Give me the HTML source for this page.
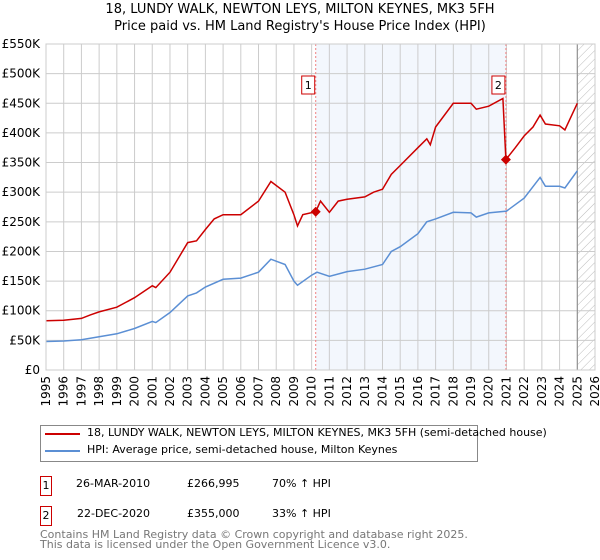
<!DOCTYPE html>
<html><head><meta charset="utf-8"><style>
body{margin:0;background:#fff;font-family:"DejaVu Sans","Liberation Sans",sans-serif;}
#wrap{position:relative;width:600px;height:560px;overflow:hidden}
.t{position:absolute;font-size:12px;color:#000;white-space:nowrap}
</style></head><body><div id="wrap">
<div class="t" style="left:0;width:600px;text-align:center;top:2px;font-size:13px">18, LUNDY WALK, NEWTON LEYS, MILTON KEYNES, MK3 5FH</div>
<div class="t" style="left:0;width:600px;text-align:center;top:19px;font-size:13px">Price paid vs. HM Land Registry's House Price Index (HPI)</div>
<svg id="chart" width="600" height="420" style="position:absolute;left:0;top:0">
<defs><pattern id="hatch" width="6" height="6" patternUnits="userSpaceOnUse" patternTransform="rotate(45)"><line x1="0" y1="0" x2="0" y2="6" stroke="#bbb" stroke-width="1"/></pattern></defs>
<g id="g"></g></svg>
<div style="position:absolute;left:40px;top:425px;width:436px;height:35px;border:1px solid #888"></div>
<div style="position:absolute;left:45px;top:433px;width:35px;height:2px;background:#cc0000"></div>
<div class="t" style="left:87px;top:426px;font-size:11px">18, LUNDY WALK, NEWTON LEYS, MILTON KEYNES, MK3 5FH (semi-detached house)</div>
<div style="position:absolute;left:45px;top:450px;width:35px;height:2px;background:#5b8fd4"></div>
<div class="t" style="left:87px;top:443px;font-size:11px">HPI: Average price, semi-detached house, Milton Keynes</div>
<div class="t" style="left:40px;top:476px;width:10px;height:18px;border:1px solid #c00;text-align:center;line-height:18px;font-size:11px">1</div>
<div class="t" style="left:76px;top:477px;font-size:11px">26-MAR-2010</div>
<div class="t" style="left:187px;top:477px;font-size:11px">£266,995</div>
<div class="t" style="left:272px;top:477px;font-size:11px">70% ↑ HPI</div>
<div class="t" style="left:40px;top:506px;width:10px;height:18px;border:1px solid #c00;text-align:center;line-height:18px;font-size:11px">2</div>
<div class="t" style="left:77px;top:507px;font-size:11px">22-DEC-2020</div>
<div class="t" style="left:187px;top:507px;font-size:11px">£355,000</div>
<div class="t" style="left:272px;top:507px;font-size:11px">33% ↑ HPI</div>
<div class="t" style="left:40px;top:530px;font-size:11px;color:#777;line-height:10px">Contains HM Land Registry data © Crown copyright and database right 2025.<br>This data is licensed under the Open Government Licence v3.0.</div>
</div>
<script>
const hpiYears=[1995,1996,1997,1998,1999,2000,2001,2001.2,2002,2003,2003.5,2004,2005,2006,2007,2007.7,2008.5,2009,2009.2,2010,2010.3,2011,2012,2013,2014,2014.5,2015,2016,2016.5,2017,2018,2019,2019.3,2020,2021,2022,2022.9,2023.2,2024,2024.3,2025];
const hpiValues=[48,49,51,56,61,70,82,80,97,125,130,140,153,155,165,187,178,150,143,160,165,158,166,170,178,200,208,230,250,255,266,265,258,265,268,290,325,310,310,307,336];
const propYears=[1995,1996,1997,1997.5,1998,1999,2000,2001,2001.2,2002,2003,2003.5,2004,2004.5,2005,2006,2007,2007.7,2008.5,2009,2009.2,2009.5,2010.23,2010.5,2011,2011.5,2012,2013,2013.5,2014,2014.5,2015,2016,2016.5,2016.7,2017,2018,2019,2019.3,2020,2020.8,2020.97,2021.5,2022,2022.5,2022.9,2023.2,2024,2024.3,2025];
const propValues=[83,84,87,93,98,106,122,142,139,165,215,218,237,255,262,262,285,318,300,262,243,262,267,285,266,285,288,292,300,305,330,345,375,390,380,410,450,450,440,445,458,355,375,395,410,430,415,412,405,450];
const saleYears=[2010.23,2020.97];
const saleValues=[266.995,355];
const saleLabels=["1","2"];
const yTicks=[0,50,100,150,200,250,300,350,400,450,500,550];
const yTickLabels=["£0","£50K","£100K","£150K","£200K","£250K","£300K","£350K","£400K","£450K","£500K","£550K"];
const xTicks=[1995,1996,1997,1998,1999,2000,2001,2002,2003,2004,2005,2006,2007,2008,2009,2010,2011,2012,2013,2014,2015,2016,2017,2018,2019,2020,2021,2022,2023,2024,2025,2026];
const X0=46,X1=595,Y0=370,Y1=44;
const x=v=>X0+(v-1995)/(2026-1995)*(X1-X0);
const y=v=>Y0-v/550*(Y0-Y1);
const g=document.getElementById('g');const NS='http://www.w3.org/2000/svg';
function mk(t,a){const e=document.createElementNS(NS,t);for(const k in a)e.setAttribute(k,a[k]);g.appendChild(e);return e;}
let e=mk('rect',{x:x(saleYears[0]),y:Y1,width:x(saleYears[1])-x(saleYears[0]),height:Y0-Y1,fill:'#eef3fc',opacity:0.7});


e=mk('rect',{x:x(2025),y:Y1,width:X1-x(2025),height:Y0-Y1,fill:'url(#hatch)'});


yTicks.forEach((v,i)=>{
 let l=mk('line',{x1:X0,x2:X1,y1:y(v),y2:y(v),stroke:'#ccc'});
 
 
 let t=mk('text',{x:X0-6,y:y(v)+4,'text-anchor':'end','font-size':12,'font-family':'DejaVu Sans, sans-serif'});
 t.textContent=yTickLabels[i];
 
 
});
xTicks.forEach(v=>{
 let l=mk('line',{x1:x(v),x2:x(v),y1:Y1,y2:Y0,stroke:'#ccc'});
 
 
 let t=mk('text',{x:0,y:0,'text-anchor':'end','font-size':12,'font-family':'DejaVu Sans, sans-serif',transform:`translate(${x(v)+4},${Y0+6}) rotate(-90)`});
 t.textContent=v;
 
 
});
e=mk('line',{x1:x(2025),x2:x(2025),y1:Y1,y2:Y0,stroke:'#888'});


saleYears.forEach((v,i)=>{
 let l=mk('line',{x1:x(v),x2:x(v),y1:Y1,y2:Y0,stroke:'#f08080','stroke-dasharray':'2,2'});
 
 
});
function path(xs,ys,c,n){let d=xs.map((v,i)=>(i?'L':'M')+x(v).toFixed(1)+','+y(ys[i]).toFixed(1)).join('');
 let p=mk('path',{d:d,fill:'none',stroke:c,'stroke-width':1.5});
 
 }
path(hpiYears,hpiValues,'#5b8fd4','hpi-line');
path(propYears,propValues,'#cc0000','property-price-line');
e=mk('rect',{x:X0,y:Y1,width:X1-X0,height:Y0-Y1,fill:'none',stroke:'#ccc'});


saleYears.forEach((v,i)=>{
 let d=mk('path',{d:`M${x(v)},${y(saleValues[i])-5}l5,5l-5,5l-5,-5z`,fill:'#cc0000'});
 
 
 let b=mk('rect',{x:x(v)-14,y:76,width:13,height:18,fill:'#fff',stroke:'#cc0000'});
 
 
 let t=mk('text',{x:x(v)-7.5,y:89,'text-anchor':'middle','font-size':11,'font-family':'DejaVu Sans, sans-serif'});
 t.textContent=saleLabels[i];
 
 
});
</script></body></html>
